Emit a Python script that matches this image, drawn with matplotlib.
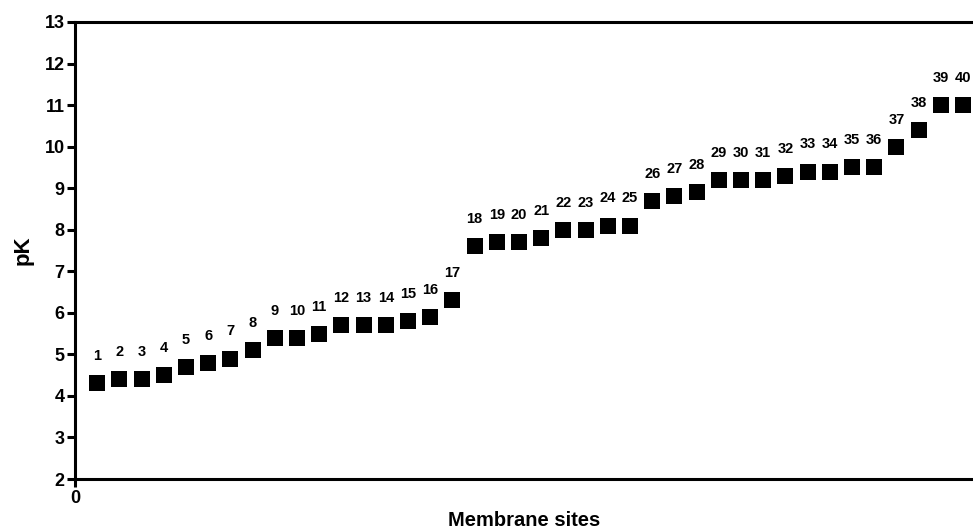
import matplotlib
matplotlib.use("Agg")
import matplotlib.pyplot as plt

plt.rcParams['font.family'] = ['Liberation Sans', 'DejaVu Sans']

sites = list(range(1, 41))
pk = [4.3, 4.4, 4.4, 4.5, 4.7, 4.8, 4.9, 5.1, 5.4, 5.4,
      5.5, 5.7, 5.7, 5.7, 5.8, 5.9, 6.3, 7.6, 7.7, 7.7,
      7.8, 8.0, 8.0, 8.1, 8.1, 8.7, 8.8, 8.9, 9.2, 9.2,
      9.2, 9.3, 9.4, 9.4, 9.5, 9.5, 10.0, 10.4, 11.0, 11.0]
labels = [str(s) for s in sites]
yticks = list(range(2, 14))

fig = plt.figure(figsize=(9.73, 5.30), dpi=100)
ax = fig.add_axes([0.0771, 0.0962, 0.9229, 0.8623])
ax.plot(sites, pk, linestyle='none', marker='s', ms=11.5, mew=0,
        color='black', clip_on=False)
for x, y, t in zip(sites, pk, labels):
    ax.annotate(t, (x, y), xytext=(0, 19.5), textcoords='offset points',
                ha='center', va='center', fontsize=10.5, fontweight='bold')

ax.set_xlim(0, 40.45)
ax.set_ylim(2, 13)
ax.set_yticks(yticks)
ax.set_xticks([0])
ax.spines['right'].set_visible(False)
for s in ['left', 'bottom', 'top']:
    ax.spines[s].set_linewidth(2.2)
ax.tick_params(axis='both', width=2.2, length=6, labelsize=13)
for lab in ax.get_yticklabels() + ax.get_xticklabels():
    lab.set_fontweight('bold')
ax.tick_params(axis='y', pad=1.5)
ax.tick_params(axis='x', pad=2)
ax.set_ylabel('pK', fontsize=16, fontweight='bold', labelpad=8)
ax.set_xlabel('Membrane sites', fontsize=14.5, fontweight='bold', labelpad=3)

fig.savefig('out.png', dpi=100)
